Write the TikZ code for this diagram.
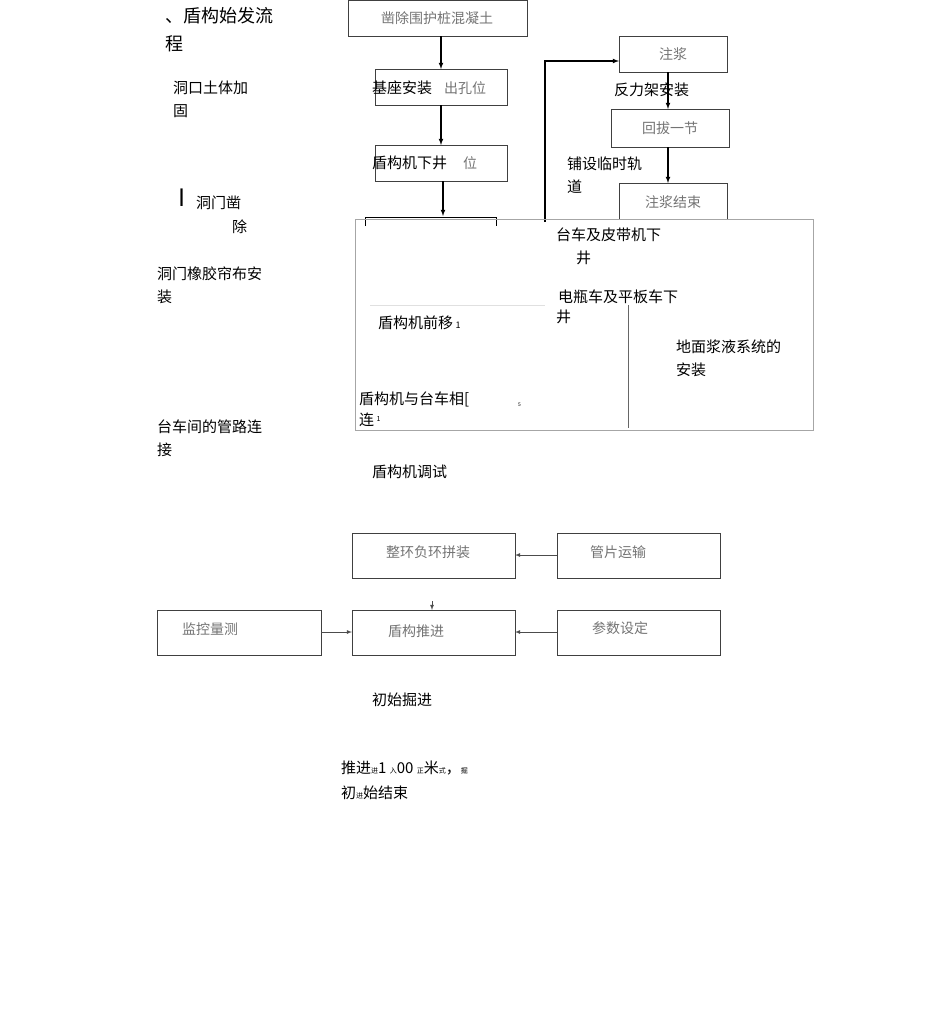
\documentclass[tikz,border=0pt]{standalone}
\usepackage{fontspec}
\setmainfont{Noto Sans CJK SC}
\begin{document}
\begin{tikzpicture}[x=1pt,y=-1pt,
  t/.style={anchor=west,inner sep=0,font=\fontsize{15}{18}\selectfont},
  g/.style={anchor=center,inner sep=0,text=black!55,font=\fontsize{14}{17}\selectfont},
  bx/.style={draw=black!75,line width=1pt},
  ar/.style={-latex,line width=1.1pt},
  ag/.style={-latex,line width=0.8pt,draw=black!70}]
\useasboundingbox (0,0) rectangle (950,1029);
% top left flow
\draw[bx] (348,0) rectangle (527,36); \node[g] (b1) at (437,18) {凿除围护桩混凝土};
\draw[bx] (375,69) rectangle (507,105); \node[g] at (465,88) {出孔位};
\draw[bx] (375,145) rectangle (507,181); \node[g] at (470,163) {位};
\coordinate (b1s) at (441,36); \coordinate (b2n) at (441,69);
\coordinate (b2s) at (441,105); \coordinate (b3n) at (441,145);
\coordinate (b3s) at (443,181); \coordinate (brk) at (443,216);
\draw[ar] (b1s) -- (b2n); \draw[ar] (b2s) -- (b3n); \draw[ar] (b3s) -- (brk);
\draw[line width=1pt] (365,226) -- (365,217) -- (496,217) -- (496,226);
% right flow
\draw[bx] (619,36) rectangle (727,72); \node[g] at (673,54) {注浆};
\draw[bx] (611,109) rectangle (729,147); \node[g] at (670,128) {回拔一节};
\draw[bx] (619,183) rectangle (727,219); \node[g] at (673,202) {注浆结束};
\coordinate (r1s) at (668,72); \coordinate (r2n) at (668,109);
\coordinate (r2s) at (668,147); \coordinate (r3n) at (668,183);
\draw[ar] (r1s) -- (r2n); \draw[ar] (r2s) -- (r3n);
\coordinate (lb) at (545,222); \coordinate (lt) at (545,61); \coordinate (r1w) at (619,61);
\draw[ar] (lb) -- (lt) -- (r1w);
% big frame
\draw[draw=black!35,line width=0.8pt] (355,219) rectangle (813,430);
\draw[draw=black!60,line width=0.6pt] (628,305) -- (628,428);
\draw[draw=black!12,line width=0.6pt] (370,305) -- (545,305);
% texts
\node[t,font=\fontsize{18}{21}\selectfont] at (165,16) {、盾构始发流};
\node[t,font=\fontsize{18}{21}\selectfont] at (165,44) {程};
\node[t] at (173,88) {洞口土体加};
\node[t] at (173,111) {固};
\node[t,font=\fontsize{24}{26}\selectfont\rmfamily] at (178,198) {I};
\node[t] at (196,203) {洞门凿};
\node[t] at (232,227) {除};
\node[t] at (157,274) {洞门橡胶帘布安};
\node[t] at (157,297) {装};
\node[t] at (157,427) {台车间的管路连};
\node[t] at (157,450) {接};
\node[t] at (372,88) {基座安装};
\node[t] at (372,163) {盾构机下井};
\node[t] at (614,90) {反力架安装};
\node[t] at (567,164) {铺设临时轨};
\node[t] at (567,187) {道};
\node[t] at (556,235) {台车及皮带机下};
\node[t] at (576,258) {井};
\node[t] at (558,297) {电瓶车及平板车下};
\node[t] at (556,317) {井};
\node[t] at (378,323) {盾构机前移\,{\fontsize{9}{10}\selectfont 1}};
\node[t] at (676,347) {地面浆液系统的};
\node[t] at (676,370) {安装};
\node[t] at (359,399) {盾构机与台车相[};
\node[t] at (359,420) {连\,\raisebox{4pt}{\fontsize{7}{8}\selectfont 1}};
\node[t,font=\fontsize{5}{6}\selectfont\itshape] at (518,405) {5};
\node[t] at (372,472) {盾构机调试};
% bottom boxes
\draw[bx] (352,533) rectangle (515,578); \node[g] (zh) at (428,552) {整环负环拼装};
\draw[bx] (557,533) rectangle (720,578); \node[g] (gp) at (618,552) {管片运输};
\draw[bx] (157,610) rectangle (321,655); \node[g] (jk) at (210,629) {监控量测};
\draw[bx] (352,610) rectangle (515,655); \node[g] (dg) at (416,631) {盾构推进};
\draw[bx] (557,610) rectangle (720,655); \node[g] (cs) at (620,628) {参数设定};
\coordinate (gpw) at (557,555); \coordinate (zhe) at (515,555);
\coordinate (jke) at (321,632); \coordinate (dgw) at (352,632);
\coordinate (cse) at (557,632); \coordinate (dge) at (515,632);
\coordinate (dn1) at (432,601); \coordinate (dn2) at (432,610);
\draw[ag] (gpw) -- (zhe); \draw[ag] (jke) -- (dgw); \draw[ag] (cse) -- (dge);
\draw[ag] (dn1) -- (dn2);
\node[t] at (372,700) {初始掘进};
\node[t] at (341,768) {推进{\fontsize{7}{8}\selectfont 进}1 {\fontsize{7}{8}\selectfont 入}00 {\fontsize{7}{8}\selectfont 正}米{\fontsize{7}{8}\selectfont 式}，{\fontsize{7}{8}\selectfont 掘}};
\node[t] at (341,793) {初{\fontsize{7}{8}\selectfont 进}始结束};
\end{tikzpicture}
\end{document}
